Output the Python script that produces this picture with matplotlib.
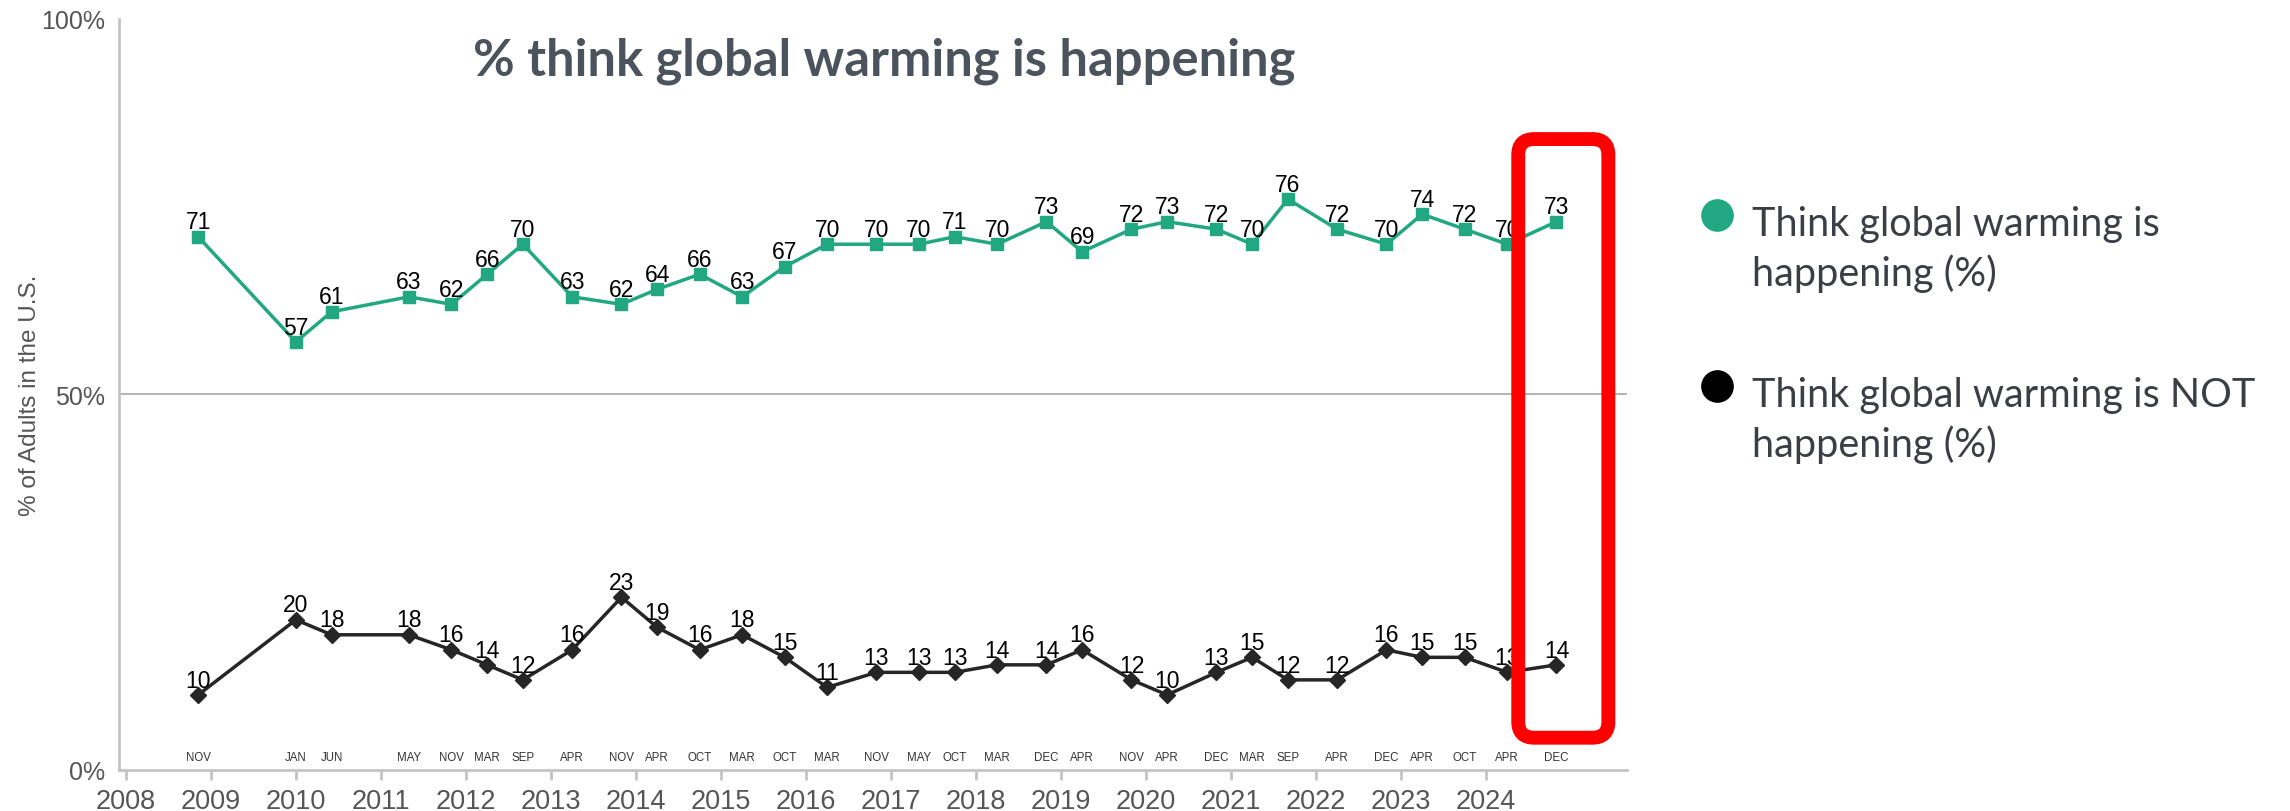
import matplotlib
matplotlib.use('Agg')
import matplotlib.pyplot as plt
from matplotlib.lines import Line2D
from matplotlib.patches import FancyBboxPatch

# survey dates as decimal years (as placed on the chart) and their month tags
survey_x = [2008.85, 2010.0, 2010.42, 2011.33, 2011.83, 2012.25, 2012.67, 2013.25,
            2013.83, 2014.25, 2014.75, 2015.25, 2015.75, 2016.25, 2016.83, 2017.33,
            2017.75, 2018.25, 2018.83, 2019.25, 2019.83, 2020.25, 2020.83, 2021.25,
            2021.67, 2022.25, 2022.83, 2023.25, 2023.75, 2024.25, 2024.83]
months = ['NOV', 'JAN', 'JUN', 'MAY', 'NOV', 'MAR', 'SEP', 'APR', 'NOV', 'APR',
          'OCT', 'MAR', 'OCT', 'MAR', 'NOV', 'MAY', 'OCT', 'MAR', 'DEC', 'APR',
          'NOV', 'APR', 'DEC', 'MAR', 'SEP', 'APR', 'DEC', 'APR', 'OCT', 'APR', 'DEC']
happening = [71, 57, 61, 63, 62, 66, 70, 63, 62, 64, 66, 63, 67, 70, 70, 70,
             71, 70, 73, 69, 72, 73, 72, 70, 76, 72, 70, 74, 72, 70, 73]
not_happening = [10, 20, 18, 18, 16, 14, 12, 16, 23, 19, 16, 18, 15, 11, 13, 13,
                 13, 14, 14, 16, 12, 10, 13, 15, 12, 12, 16, 15, 15, 13, 14]
years = list(range(2008, 2025))
y_ticks = [0, 50, 100]
legend_labels = ['Think global warming is\nhappening (%)',
                 'Think global warming is NOT\nhappening (%)']

green = '#21a882'
black = '#262626'
grey = '#c4c4c4'
narrow = ['Liberation Sans Narrow', 'Liberation Sans', 'DejaVu Sans']

fig = plt.figure(figsize=(22.9, 8.12), dpi=100)
ax = fig.add_axes([0.052, 0.0505, 0.6585, 0.925])

ax.plot(survey_x, happening, color=green, lw=2.5, marker='s', ms=9, zorder=3)
ax.plot(survey_x, not_happening, color=black, lw=2.5, marker='D', ms=8.5, zorder=3)

for series in (happening, not_happening):
    for x, v in zip(survey_x, series):
        ax.annotate(str(v), (x, v), xytext=(0, 6), textcoords='offset points',
                    ha='center', va='baseline', fontsize=16.5, family=narrow, color='black')
for x, m in zip(survey_x, months):
    ax.text(x, 1.7, m, ha='center', va='center', fontsize=8.3, family=narrow, color='#333333')

ax.axhline(50, color='#b5b5b5', lw=1.5, zorder=1)

ax.set_xlim(2007.92, 2025.66)
ax.set_ylim(0, 100)
ax.set_xticks(years)
ax.set_xticklabels([str(y) for y in years], fontsize=19.5, family=narrow, color='#555555')
ax.set_yticks(y_ticks)
ax.set_yticklabels([f'{t}%' for t in y_ticks], fontsize=18, family=narrow, color='#555555')
ax.tick_params(axis='x', length=7, width=2, color=grey, pad=6)
ax.tick_params(axis='y', length=0, pad=10)
for s in ['top', 'right']:
    ax.spines[s].set_visible(False)
for s in ['left', 'bottom']:
    ax.spines[s].set_color(grey)
    ax.spines[s].set_linewidth(2)

ax.set_ylabel('% of Adults in the U.S.', fontsize=17.5, family=['Liberation Sans', 'DejaVu Sans'],
              color='#555555')
ax.yaxis.set_label_coords(-0.052, 0.5)

# red highlight around the latest survey
px_x = 1 / 85.0
px_y = 100 / 751.0
box = FancyBboxPatch((2024.38, 4.3), 2025.44 - 2024.38, 84.0 - 4.3,
                     boxstyle='round,pad=0,rounding_size=%f' % (16 * px_x),
                     mutation_aspect=px_y / px_x, transform=ax.transData,
                     fill=False, edgecolor='#ff0000', lw=10, zorder=5, clip_on=False)
ax.add_patch(box)

fig.text(0.386, 0.925, '% think global warming is happening', ha='center', va='center',
         fontsize=36.5, fontweight='bold', family=['Lato', 'DejaVu Sans'], color='#4b535c')

# legend drawn by hand so the dot sits on the first text line
W, H = 2290.0, 812.0
entry_y = [216, 387]
for (col, label, cy) in zip([green, 'black'], legend_labels, entry_y):
    fig.add_artist(Line2D([1717 / W], [1 - cy / H], marker='o', color=col, ms=22.5,
                          ls='none', transform=fig.transFigure))
    for i, line in enumerate(label.split('\n')):
        fig.text(1752 / W, 1 - (cy + 20 + 50 * i) / H, line, ha='left', va='baseline',
                 fontsize=28.5, family=['Lato', 'DejaVu Sans'], color='#3b3f45')

fig.savefig('out.png', dpi=100)
